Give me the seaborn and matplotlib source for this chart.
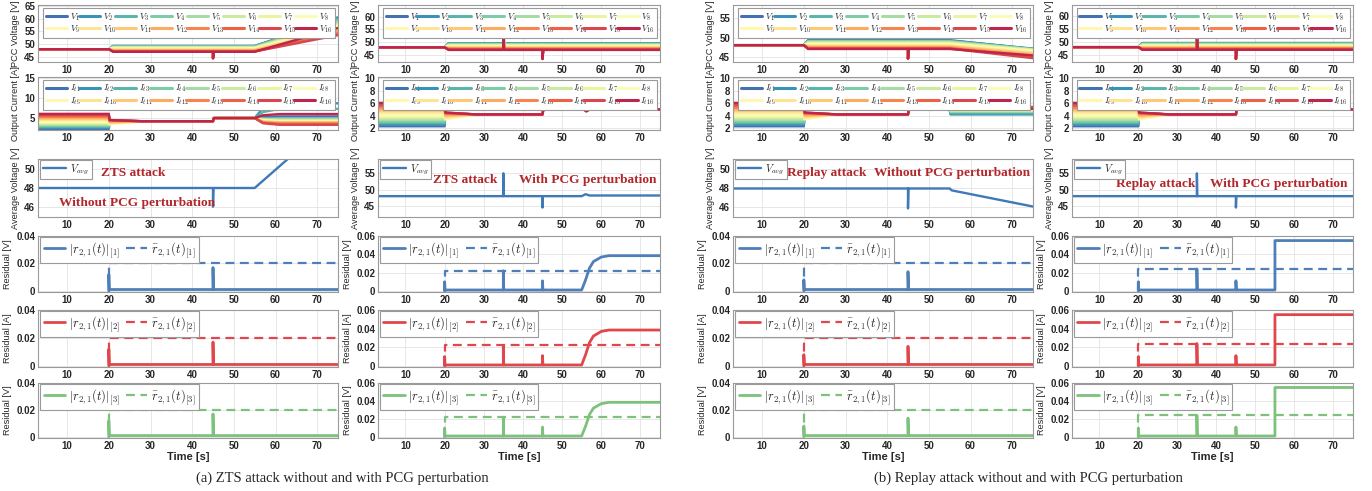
import matplotlib
matplotlib.use("Agg")
import matplotlib.pyplot as plt
from matplotlib.lines import Line2D
import pandas as pd
import seaborn as sns

sns.set_theme(style="whitegrid")
plt.rcParams["font.family"] = ["Liberation Sans", "DejaVu Sans"]
plt.rcParams["mathtext.fontset"] = "cm"

# ---------------- data ----------------
x_range = [3, 75]
x_ticks = [10, 20, 30, 40, 50, 60, 70]
unit_ids = list(range(1, 17))
v_labels = [rf"$V_{{{i}}}$" for i in unit_ids]
i_labels = [rf"$I_{{t{i}}}$" for i in unit_ids]

# PCC voltage [V]
pcc_nominal = 48.0
pcc_spread_nopcg = [49.3, 49.2, 49.1, 49.0, 48.9, 48.7, 48.5, 48.3, 48.1, 47.9, 47.7, 47.5, 47.3, 47.2, 47.1, 47.0]
pcc_spread_pcg = [49.6, 49.5, 49.4, 49.3, 49.1, 48.9, 48.7, 48.5, 48.3, 48.1, 47.9, 47.7, 47.5, 47.3, 47.1, 47.0]
pcc_zts_end = [59.5, 60.5, 59.8, 59.2, 58.6, 58.0, 57.5, 57.0, 56.6, 56.2, 55.6, 55.0, 54.5, 54.0, 53.5, 56.3]
pcc_replay_end = [47.0, 47.1, 47.0, 46.9, 46.9, 46.8, 46.7, 46.5, 46.3, 46.1, 45.8, 45.5, 45.2, 44.9, 44.6, 45.3]
pcc_dip_45 = 44.5
pcc_dip_45_pcg = 43.5
pcc_peak_35_zts = 55.0
pcc_peak_35_replay = 54.5

# Output current [A]
cur_init = [2.3, 2.55, 2.8, 3.05, 3.3, 3.55, 3.8, 4.05, 4.3, 4.55, 4.8, 5.05, 5.3, 5.55, 5.8, 6.05]
cur_post = [4.4, 4.4, 4.3, 4.1, 3.9, 3.7, 3.5, 3.4, 3.5, 3.7, 3.9, 4.1, 4.3, 4.4, 4.5, 4.5]
cur_settled = 4.2
cur_step = 5.0
cur_zts_57 = [5.3, 7.5, 6.5, 4.9, 4.7, 4.6, 4.5, 4.4, 4.3, 4.2, 4.1, 4.0, 3.9, 3.8, 3.7, 5.7]
cur_zts_end = [5.4, 8.7, 7.3, 4.8, 4.6, 4.5, 4.3, 4.2, 4.1, 4.0, 3.9, 3.8, 3.6, 3.5, 3.3, 6.0]
cur_pcg_blip = [5.8, 6.2, 5.9, 5.4, 5.2, 5.1, 5.0, 5.0, 5.0, 4.9, 4.9, 4.8, 4.8, 4.7, 4.7, 4.7]
cur_replay_end = [4.3, 4.2, 4.4, 4.6, 4.7, 4.8, 4.9, 5.0, 5.0, 5.1, 5.2, 5.2, 5.3, 5.3, 5.4, 5.1]

# Average voltage [V]
avg_t_zts = [3, 45, 45, 45.1, 55, 75]
avg_v_zts = [48, 48, 46, 48, 48, 55.8]
avg_t_zts_pcg = [3, 35, 35, 35.1, 45, 45, 45.1, 55, 56, 57, 75]
avg_v_zts_pcg = [48, 48, 55, 48, 48, 44.5, 48, 48, 48.6, 48.2, 48.2]
avg_t_rep = [3, 45, 45, 45.1, 55, 55.5, 75]
avg_v_rep = [48, 48, 45.9, 48, 48, 47.8, 46.1]
avg_t_rep_pcg = [3, 35, 35, 35.1, 45, 45, 45.1, 75]
avg_v_rep_pcg = [48, 48, 55, 48, 48, 44.5, 48, 48]

# Residuals
res_t_zts = [20, 20, 20.1, 45, 45, 45.1, 75]
res_v_zts = [0, 0.012, 0.001, 0.001, 0.017, 0.001, 0.001]
res_t_zts_pcg = [20, 20, 20.1, 35, 35, 35.1, 45, 45, 45.1, 55, 56, 57, 58, 60, 62, 75]
res_v_zts_pcg = [0, 0.010, 0.001, 0.001, 0.022, 0.001, 0.001, 0.011, 0.001, 0.001, 0.012, 0.025, 0.032, 0.037, 0.0385, 0.0385]
res_t_rep = [20, 20, 20.1, 45, 45, 45.1, 75]
res_v_rep = [0, 0.008, 0.001, 0.001, 0.014, 0.001, 0.001]
res_t_rep_pcg = [20, 20, 20.1, 35, 35, 35.1, 45, 45, 45.1, 55, 55, 75]
res_v_rep_pcg = [0, 0.010, 0.001, 0.001, 0.024, 0.001, 0.001, 0.011, 0.001, 0.001, 0.055, 0.055]
thr_t = [20, 20, 75]
thr_zts = [0, 0.020, 0.020]
thr_zts_pcg = [0, 0.022, 0.022]
thr_rep = [0, 0.020, 0.020]
thr_rep_pcg = [0, 0.024, 0.024]

res_components = ["[1]", "[2]", "[3]"]
res_units = ["Residual [V]", "Residual [A]", "Residual [V]"]
res_colors = ["#4f7fb8", "#e0474c", "#7cc27c"]
avg_color = "#3f79b8"
note_color = "#b3262b"
captions = ["(a) ZTS attack without and with PCG perturbation",
            "(b) Replay attack without and with PCG perturbation"]

# ---------------- layout ----------------
W, H = 1372, 491
fig = plt.figure(figsize=(W / 100, H / 100), dpi=100)
col_x = [(38, 300), (378, 282), (733, 300), (1072, 281)]
row_y = [(5, 62), (77, 130), (159, 217), (236, 292), (310, 367), (383, 438)]
pal = sns.color_palette("Spectral_r", 16)
legend_order = [k for pair in zip(range(8), range(8, 16)) for k in pair]


def add_ax(c, r):
    x0, w = col_x[c]
    y0, y1 = row_y[r]
    return fig.add_axes([x0 / W, 1 - y1 / H, w / W, (y1 - y0) / H])


def style(ax, ylim, yticks, yticklabels, ylabel, xlabel=""):
    ax.set_xlim(*x_range)
    ax.set_xticks(x_ticks)
    ax.set_xticklabels([str(t) for t in x_ticks])
    ax.set_ylim(*ylim)
    ax.set_yticks(yticks)
    ax.set_yticklabels(yticklabels)
    ax.set_ylabel(ylabel, fontsize=6.6, labelpad=3, color="#262626")
    ax.set_xlabel(xlabel, fontsize=8, fontweight="bold", labelpad=1, color="#262626")
    ax.tick_params(labelsize=7, length=0, pad=2, colors="#262626")
    for lab in ax.get_xticklabels() + ax.get_yticklabels():
        lab.set_fontweight("bold")
    ax.grid(True, color="#e3e3e3", lw=0.6)
    ax.set_facecolor("white")
    for s in ax.spines.values():
        s.set_color("#9a9a9a")
        s.set_linewidth(0.8)


def build_multi(times, cols):
    rows = []
    for k in range(16):
        for t, c in zip(times, cols):
            v = c[k] if isinstance(c, list) else c
            rows.append({"t": t, "v": v, "unit": k + 1})
    return pd.DataFrame(rows)


def multi_panel(ax, times, cols, labels):
    df = build_multi(times, cols)
    sns.lineplot(data=df, x="t", y="v", hue="unit", palette=pal, estimator=None,
                 sort=False, legend=False, lw=1.7, ax=ax)
    handles = [Line2D([], [], color=pal[i], lw=2.2) for i in legend_order]
    labs = [labels[i] for i in legend_order]
    leg = ax.legend(handles, labs, ncol=8, loc="upper left", bbox_to_anchor=(0.017, 0.0, 0.973, 0.94),
                    mode="expand", borderaxespad=0, fontsize=6.5, handlelength=2.4, handletextpad=0.3,
                    columnspacing=0.4, borderpad=0.3, labelspacing=0.1, frameon=True, fancybox=False,
                    edgecolor="#9a9a9a", framealpha=1)
    leg.get_frame().set_linewidth(0.8)


def single_legend(ax, fontsize, **kw):
    leg = ax.legend(loc="upper left", bbox_to_anchor=(0.008, 0.985), borderaxespad=0, fontsize=fontsize,
                    frameon=True, fancybox=False, edgecolor="#9a9a9a", framealpha=1, borderpad=0.25, **kw)
    leg.get_frame().set_linewidth(0.8)


S = pcc_spread_nopcg
P = pcc_spread_pcg
pcc_cfg = [
    ([3, 20, 21, 45, 45, 45.2, 55, 75], [pcc_nominal, pcc_nominal, S, S, pcc_dip_45, S, S, pcc_zts_end],
     (43, 65.3), [45, 50, 55, 60, 65]),
    ([3, 20, 21, 35, 35, 35.2, 45, 45, 45.2, 75],
     [pcc_nominal, pcc_nominal, P, P, pcc_peak_35_zts, P, P, pcc_dip_45_pcg, P, P],
     (42.3, 64.5), [45, 50, 55, 60]),
    ([3, 20, 21, 45, 45, 45.2, 55, 75], [pcc_nominal, pcc_nominal, S, S, pcc_dip_45, S, S, pcc_replay_end],
     (43.6, 58.5), [45, 50, 55]),
    ([3, 20, 21, 35, 35, 35.2, 45, 45, 45.2, 75],
     [pcc_nominal, pcc_nominal, P, P, pcc_peak_35_replay, P, P, pcc_dip_45_pcg, P, P],
     (42.3, 64.2), [45, 50, 55, 60]),
]
ci, cp, cs, c5 = cur_init, cur_post, cur_settled, cur_step
cur_cfg = [
    ([3, 20, 20.2, 28, 45, 45.2, 55, 57, 61, 75], [ci, ci, cp, cs, cs, c5, c5, cur_zts_57, cur_zts_end, cur_zts_end],
     (2.0, 15.3), [5, 10, 15]),
    ([3, 20, 20.2, 28, 45, 45.2, 55.5, 56.2, 57, 75], [ci, ci, cp, cs, cs, c5, c5, cur_pcg_blip, c5, c5],
     (1.7, 10.2), [2, 4, 6, 8, 10]),
    ([3, 20, 20.2, 28, 45, 45.2, 55, 55.2, 75], [ci, ci, cp, cs, cs, c5, c5, cur_replay_end, cur_replay_end],
     (1.7, 10.2), [2, 4, 6, 8, 10]),
    ([3, 20, 20.2, 28, 45, 45.2, 75], [ci, ci, cp, cs, cs, c5, c5],
     (1.7, 10.2), [2, 4, 6, 8, 10]),
]
avg_cfg = [
    (avg_t_zts, avg_v_zts, (44.9, 51.1), [46, 48, 50],
     [("ZTS attack", 0.21, 0.76), ("Without PCG perturbation", 0.07, 0.24)]),
    (avg_t_zts_pcg, avg_v_zts_pcg, (41.6, 59.4), [45, 50, 55],
     [("ZTS attack", 0.195, 0.64), ("With PCG perturbation", 0.50, 0.64)]),
    (avg_t_rep, avg_v_rep, (45.0, 51.1), [46, 48, 50],
     [("Replay attack", 0.18, 0.76), ("Without PCG perturbation", 0.47, 0.76)]),
    (avg_t_rep_pcg, avg_v_rep_pcg, (41.6, 59.4), [45, 50, 55],
     [("Replay attack", 0.155, 0.57), ("With PCG perturbation", 0.49, 0.57)]),
]
res_cfg = [
    (res_t_zts, res_v_zts, thr_zts, (-0.0008, 0.04), [0, 0.02, 0.04], ["0", "0.02", "0.04"]),
    (res_t_zts_pcg, res_v_zts_pcg, thr_zts_pcg, (-0.0012, 0.06), [0, 0.02, 0.04, 0.06], ["0", "0.02", "0.04", "0.06"]),
    (res_t_rep, res_v_rep, thr_rep, (-0.0008, 0.04), [0, 0.02, 0.04], ["0", "0.02", "0.04"]),
    (res_t_rep_pcg, res_v_rep_pcg, thr_rep_pcg, (-0.0012, 0.06), [0, 0.02, 0.04, 0.06], ["0", "0.02", "0.04", "0.06"]),
]

for c in range(4):
    # PCC voltage
    ax = add_ax(c, 0)
    t, cols, yl, yt = pcc_cfg[c]
    multi_panel(ax, t, cols, v_labels)
    style(ax, yl, yt, [str(v) for v in yt], "PCC Voltage [V]")
    # Output current
    ax = add_ax(c, 1)
    t, cols, yl, yt = cur_cfg[c]
    multi_panel(ax, t, cols, i_labels)
    style(ax, yl, yt, [str(v) for v in yt], "Output Current [A]")
    # Average voltage
    ax = add_ax(c, 2)
    t, v, yl, yt, notes = avg_cfg[c]
    sns.lineplot(x=t, y=v, color=avg_color, lw=1.7, estimator=None, sort=False, ax=ax, label=r"$V_{avg}$")
    single_legend(ax, 7.5, handlelength=2.2, handletextpad=0.4)
    style(ax, yl, yt, [str(x) for x in yt], "Average Voltage [V]")
    for txt, xx, yy in notes:
        ax.text(xx, yy, txt, transform=ax.transAxes, ha="left", va="center", color=note_color,
                fontsize=9.6, fontweight="bold", family="Liberation Serif")
    # Residuals
    t, v, thr, yl, yt, ytl = res_cfg[c]
    for r in range(3):
        ax = add_ax(c, 3 + r)
        comp = res_components[r]
        sns.lineplot(x=t, y=v, color=res_colors[r], lw=2.0, estimator=None, sort=False, ax=ax,
                     label=rf"$|r_{{2,1}}(t)|_{{{comp}}}$")
        sns.lineplot(x=thr_t, y=thr, color=res_colors[r], lw=1.6, estimator=None, sort=False, ax=ax,
                     dashes=False, label=rf"$\bar{{r}}_{{2,1}}(t)_{{{comp}}}$")
        ax.get_lines()[-1].set_dashes((4, 2.5))
        single_legend(ax, 9, ncol=2, handlelength=1.7, handletextpad=0.3, columnspacing=0.5)
        ax.get_legend().get_lines()[1].set_dashes((4, 2.5))
        style(ax, yl, yt, ytl, res_units[r], "Time [s]" if r == 2 else "")

fig.text(342 / W, 1 - 478 / H, captions[0], ha="center", va="center", fontsize=10.5, family="Liberation Serif")
fig.text(1028 / W, 1 - 478 / H, captions[1], ha="center", va="center", fontsize=10.5, family="Liberation Serif")

fig.savefig("out.png", dpi=100, facecolor="white")
